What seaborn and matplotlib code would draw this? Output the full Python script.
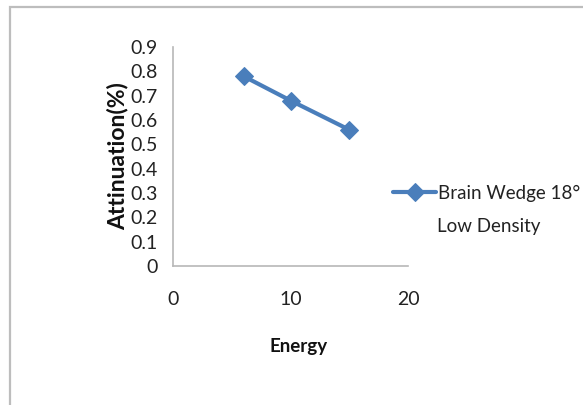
import matplotlib
matplotlib.use("Agg")
import matplotlib.pyplot as plt
import seaborn as sns
import pandas as pd
from matplotlib.patches import Rectangle

# Measured attenuation for the 18 degree brain wedge (low density)
energy = [6, 10, 15]
attenuation = [0.78, 0.68, 0.56]
series_name = "Brain Wedge 18°"
series_note = "Low Density"

x_ticks = [0, 10, 20]
y_ticks = [0, 0.1, 0.2, 0.3, 0.4, 0.5, 0.6, 0.7, 0.8, 0.9]

sns.set_theme(style="white")
plt.rcParams["font.family"] = ["Lato", "DejaVu Sans"]

df = pd.DataFrame({"Energy": energy, "Attinuation(%)": attenuation,
                   "series": [series_name] * len(energy)})

fig = plt.figure(figsize=(5.83, 4.05), dpi=100)
ax = fig.add_axes([173 / 583, 1 - 266 / 405, 235 / 583, 219 / 405])

blue = "#4a7ebb"
sns.lineplot(data=df, x="Energy", y="Attinuation(%)", hue="series",
             palette=[blue], marker="D", markersize=9, linewidth=3,
             markeredgecolor=blue, ax=ax)

ax.set_xlim(0, 20)
ax.set_ylim(0, 0.9)
ax.set_xticks(x_ticks)
ax.set_xticklabels([str(t) for t in x_ticks])
ax.set_yticks(y_ticks)
ax.set_yticklabels(["0"] + [f"{t:.1f}" for t in y_ticks[1:]])
ax.tick_params(axis="both", length=0, labelsize=14, colors="#222222")
ax.tick_params(axis="y", pad=11)
ax.tick_params(axis="x", pad=18)

for side in ("top", "right"):
    ax.spines[side].set_visible(False)
for side in ("left", "bottom"):
    ax.spines[side].set_color("#b8b8b8")
    ax.spines[side].set_linewidth(1.2)

ax.set_xlabel("Energy", fontsize=13.5, fontweight="bold", color="#111111")
ax.set_ylabel("Attinuation(%)", fontsize=16.5, fontweight="bold", color="#111111")
ax.xaxis.set_label_coords(0.536, -0.33)
ax.yaxis.set_label_coords(-0.19, 0.502)

# legend: handle + first line, second line set just below the first
leg = ax.legend(loc="center left", bbox_to_anchor=(393 / 583, 1 - 193 / 405),
                bbox_transform=fig.transFigure, frameon=False, fontsize=13.5,
                handlelength=2.3, handletextpad=0.1, borderpad=0,
                borderaxespad=0)
leg.get_texts()[0].set_color("#222222")
fig.text(437 / 583, 1 - 227 / 405, series_note, ha="left", va="center",
         fontsize=13.5, color="#222222")

# chart-area frame along the top and left edges
fig.add_artist(Rectangle((10 / 583, -0.1), 1.2, 1.1 - 7 / 405,
                         transform=fig.transFigure, fill=False,
                         edgecolor="#bdbdbd", linewidth=1.6))

fig.savefig("out.png", dpi=100)
